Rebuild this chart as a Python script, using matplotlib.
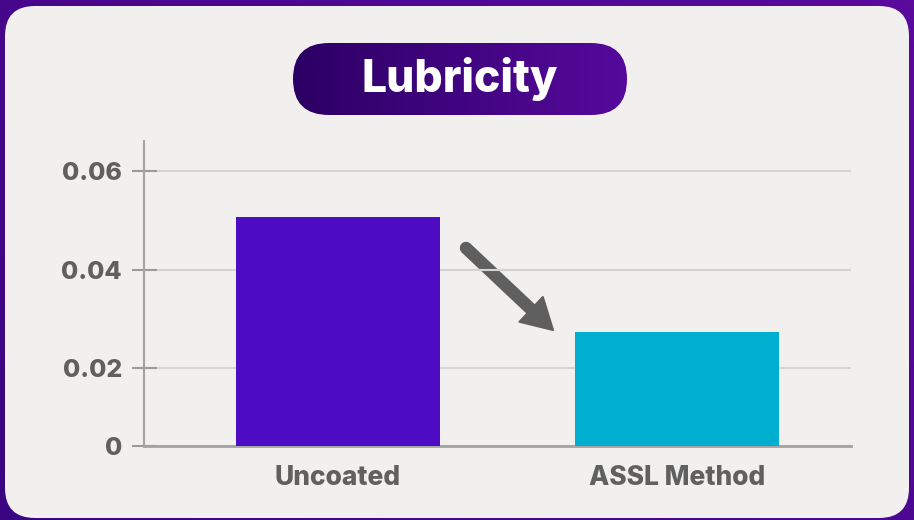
import numpy as np
import matplotlib.pyplot as plt
from matplotlib.patches import FancyBboxPatch, Polygon
from matplotlib.colors import LinearSegmentedColormap

"""DATA"""
categories = ["Uncoated", "ASSL Method"]
values = [0.0507, 0.0273]
bar_colors = ["#4e0cc4", "#00afd0"]
yticks = [0, 0.02, 0.04, 0.06]
ytick_labels = ["0", "0.02", "0.04", "0.06"]
title = "Lubricity"

plt.rcParams['font.family'] = ['Inter', 'DejaVu Sans']

W, H = 914, 520
fig = plt.figure(figsize=(W / 100, H / 100), dpi=100)

"""BACKGROUND"""
bg = fig.add_axes([0, 0, 1, 1])
bg.set_xlim(0, W)
bg.set_ylim(0, H)
bg.axis("off")
gx, gy = np.meshgrid(np.linspace(0, 1, 200), np.linspace(0, 1, 120))
bg_cmap = LinearSegmentedColormap.from_list("bg", ["#3a0582", "#5a0a9c"])
bg.imshow(0.6 * gx + 0.4 * gy, cmap=bg_cmap, extent=[0, W, 0, H],
          origin="lower", aspect="auto", zorder=0)

panel = FancyBboxPatch((5, 2), 904, 512, boxstyle="round,pad=0,rounding_size=30",
                       fc="#f1f0ee", ec="none", zorder=1)
bg.add_patch(panel)

# title pill with gradient
pill = FancyBboxPatch((293, 405), 334, 72, boxstyle="round,pad=0,rounding_size=36",
                      fc="none", ec="none", zorder=2)
bg.add_patch(pill)
pill_cmap = LinearSegmentedColormap.from_list("pill", ["#2c0064", "#56099c"])
im = bg.imshow(np.linspace(0, 1, 200)[None, :], cmap=pill_cmap,
               extent=[293, 627, 405, 477], aspect="auto", zorder=2)
im.set_clip_path(pill)
bg.text(460, 441, title, color="white", fontsize=32, fontweight=800,
        ha="center", va="center", zorder=3)

"""CHART"""
ax = fig.add_axes([144 / W, (H - 446) / H, 707 / W, 305 / H])
ax.set_facecolor("none")

# the reference axis squeezes the 0 - 0.02 band
k = 78 / 98.5


def fwd(y):
    y = np.asarray(y, dtype=float)
    return np.where(y < 0.02, y * k, y - 0.02 * (1 - k))


def inv(u):
    u = np.asarray(u, dtype=float)
    return np.where(u < 0.02 * k, u / k, u + 0.02 * (1 - k))


ax.set_yscale("function", functions=(fwd, inv))

x = np.arange(len(categories))
ax.bar(x, values, width=0.602, color=bar_colors, zorder=3)

ax.set_xlim(-0.572, 1.513)
ax.set_ylim(0, 0.0661)
ax.set_yticks(yticks)
ax.set_yticklabels(ytick_labels)
ax.set_xticks(x)
ax.set_xticklabels(categories)
ax.yaxis.set_minor_locator(plt.NullLocator())

ax.grid(axis="y", color="#d4d4d4", lw=1.5, zorder=0)
for s in ["top", "right"]:
    ax.spines[s].set_visible(False)
ax.spines["left"].set_color("#a3a3a3")
ax.spines["left"].set_linewidth(1.5)
ax.spines["bottom"].set_color("#a3a3a3")
ax.spines["bottom"].set_linewidth(2)

ax.tick_params(axis="y", direction="inout", length=18, width=1.5, color="#9a9a9a",
               pad=7, labelsize=18, labelcolor="#606060")
ax.tick_params(axis="x", length=0, pad=14, labelsize=19, labelcolor="#606060")
for lab in ax.get_xticklabels() + ax.get_yticklabels():
    lab.set_fontweight(800)

"""ARROW"""
start = np.array([466.0, 272.0])
tip = np.array([553.0, 190.0])
d = (tip - start) / np.hypot(*(tip - start))
n = np.array([-d[1], d[0]])
base = tip - 30 * d
bg.plot([start[0], base[0] + 2 * d[0]], [start[1], base[1] + 2 * d[1]],
        color="#5f5f5f", lw=9, solid_capstyle="round", zorder=5)
bg.add_patch(Polygon([tip, base + 17 * n, base - 17 * n], closed=True,
                     fc="#5f5f5f", ec="#5f5f5f", lw=1.5, joinstyle="round", zorder=5))

fig.savefig("out.png", dpi=100)
